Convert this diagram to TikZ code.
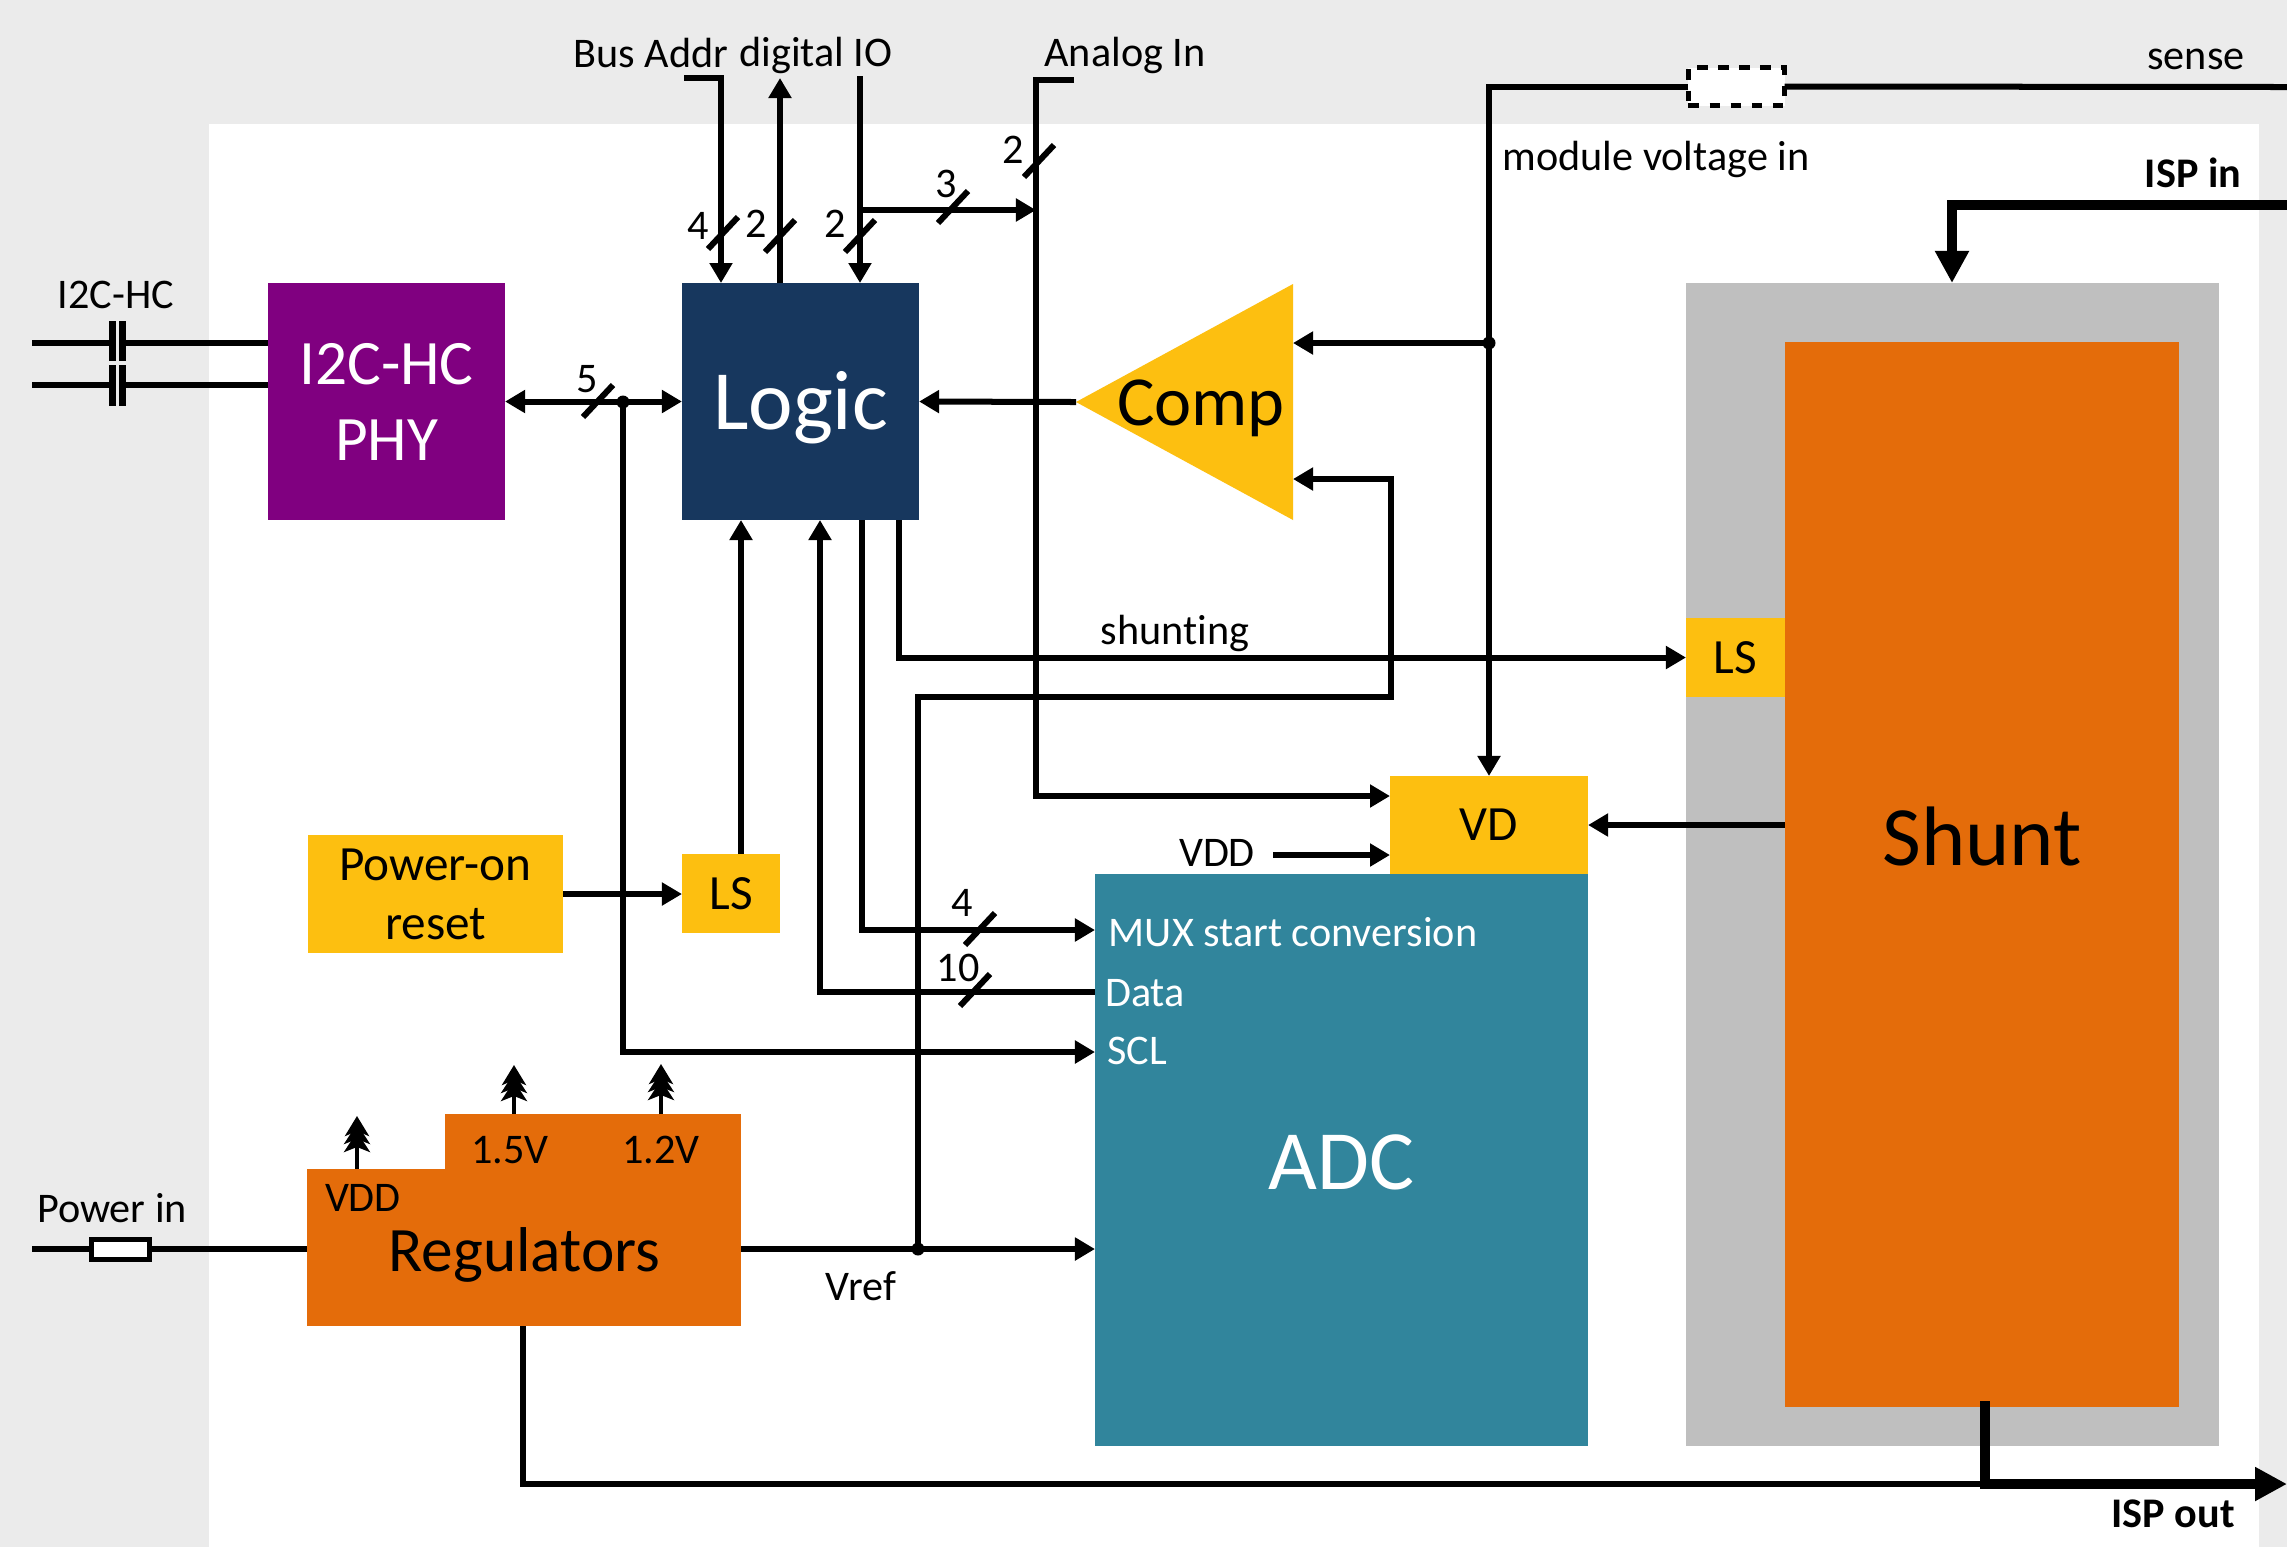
\documentclass[tikz,border=0pt]{standalone}
\usepackage{fontspec}
\setmainfont{Carlito}[Ligatures=NoCommon]
\usetikzlibrary{
    arrows.meta,
    shapes.geometric
}
\definecolor{pagegrey}{HTML}{EBEBEB}
\definecolor{casegrey}{HTML}{BFBFBF}
\definecolor{phypurple}{HTML}{800080}
\definecolor{logicblue}{HTML}{17375E}
\definecolor{blockyellow}{HTML}{FDBF10}
\definecolor{blockorange}{HTML}{E46C0A}
\definecolor{adcteal}{HTML}{31859C}
\tikzset{
  every node/.style={
    inner sep=0pt,
    outer sep=0pt
  },
  block/.style={
    font=\fontsize{14}{16.8}\selectfont,
    align=center
  },
  bigtxt/.style={
    font=\fontsize{24}{28.8}\selectfont
  },
  txt/.style={
    font=\fontsize{12}{14.4}\selectfont
  },
  boldtxt/.style={
    font=\fontsize{12}{14.4}\selectfont\bfseries
  },
  wire/.style={
    black,
    line width=0.06cm,
    -{Triangle[length=0.2cm,width=0.22cm]}
  },
  plain/.style={
    black,
    line width=0.06cm
  },
  fatwire/.style={
    black,
    line width=0.105cm,
    -{Triangle[length=0.32cm,width=0.32cm]}
  },
  treewire/.style={
    black,
    line width=0.04cm,
    -{Stealth[length=0.2cm,width=0.26cm,inset=0.05cm,sep=-0.12cm]
      Stealth[length=0.2cm,width=0.26cm,inset=0.05cm,sep=-0.12cm]
      Stealth[length=0.2cm,width=0.24cm,inset=0.05cm]}
  },
  junction/.style={
    fill=black,
    circle,
    minimum size=0.13cm
  }
}
\begin{document}
\begin{tikzpicture}[x=0.01cm,y=-0.01cm]
    \useasboundingbox (0,0) rectangle (2287,1547);
    \fill[pagegrey] (0,0) rectangle (2287,1547);
    \fill[white] (209,124) rectangle (2259,1547);

    \begin{scope}[yshift=-0.01cm]
    % blocks
    \node[block,fill=phypurple,text=white,minimum width=2.37cm,minimum height=2.37cm,font=\fontsize{18}{21.6}\selectfont] (phy) at (386.5,400.5) {I2C-HC\\PHY};
    \node[fill=logicblue,minimum width=2.37cm,minimum height=2.37cm] (logic) at (800.5,400.5) {};
    \node[bigtxt,text=white] (logicname) at (800.5,406.5) {Logic};
    \node[fill=casegrey,minimum width=5.33cm,minimum height=11.63cm] (shuntcase) at (1952.5,863.5) {};
    \node[fill=blockorange,minimum width=3.94cm,minimum height=10.65cm] (shunt) at (1982,873.5) {};
    \node[bigtxt] (shuntname) at (1982,835) {Shunt};
    \node[block,fill=blockyellow,minimum width=0.99cm,minimum height=0.79cm] (lsshunt) at (1735.5,656.5) {LS};
    \node[block,fill=blockyellow,minimum width=1.98cm,minimum height=0.98cm] (vd) at (1489,824) {VD};
    \node[fill=adcteal,minimum width=4.93cm,minimum height=5.72cm] (adc) at (1341.5,1159) {};
    \node[bigtxt,text=white] (adcname) at (1341.5,1161) {ADC};
    \node[block,fill=blockyellow,minimum width=2.55cm,minimum height=1.18cm] (por) at (435.5,893) {Power-on\\reset};
    \node[block,fill=blockyellow,minimum width=0.98cm,minimum height=0.79cm] (lspor) at (731,892.5) {LS};
    \fill[blockyellow] (1076,401) -- (1293,283) -- (1293,519) -- cycle;
    \node[font=\fontsize{20}{24}\selectfont] (comp) at (1201,407) {Comp};
    \coordinate (comptip) at (1076,401);

    % regulators
    \node[fill=blockorange,minimum width=4.34cm,minimum height=1.57cm] (regs) at (524,1246.5) {};
    \node[fill=blockorange,minimum width=2.96cm,minimum height=0.56cm] (regstop) at (593,1141) {};
    \node[font=\fontsize{18}{21.6}\selectfont] (regsname) at (524.5,1253.5) {Regulators};
    \node[txt] (regvdd) at (363,1197) {VDD};
    \node[txt] (regmid) at (510,1149) {1.5V};
    \node[txt] (reglow) at (661,1149) {1.2V};

    % labels
    \node[txt] (lbladdr) at (651,52) {Bus Addr};
    \node[txt] (lblio) at (816,54) {digital IO};
    \node[txt] (lblanalog) at (1125,54) {Analog In};
    \node[txt] (lblsense) at (2196,58) {sense};
    \node[txt] (lblmodule) at (1656,158) {module voltage in};
    \node[boldtxt] (lblispin) at (2193,172) {ISP in};
    \node[boldtxt] (lblispout) at (2173,1513) {ISP out};
    \node[txt] (lblbus) at (116,294) {I2C-HC};
    \node[txt] (lblpower) at (112,1207) {Power in};
    \node[txt] (lblshunting) at (1175,632) {shunting};
    \node[txt] (lblvdd) at (1217,852) {VDD};
    \node[txt] (lblvref) at (861,1285) {Vref};
    \node[txt,text=white] (lblmux) at (1293,931) {MUX start conversion};
    \node[txt,text=white] (lbldata) at (1145,992) {Data};
    \node[txt,text=white] (lblscl) at (1137,1050) {SCL};

    % free ends and pins
    \coordinate (addrin) at (684,77);
    \coordinate (ioout) at (780,77);
    \coordinate (ioin) at (860,75);
    \coordinate (iotap) at (860,209);
    \coordinate (analogin) at (1074,79);
    \coordinate (analogpin) at (1036,209);
    \coordinate (sensein) at (2287,86);
    \coordinate (ispin) at (2287,204);
    \coordinate (ispout) at (2287,1483);
    \coordinate (logicaddr) at (721,282);
    \coordinate (logicio) at (780,282);
    \coordinate (logicin) at (860,282);
    \coordinate (logicls) at (741,519);
    \coordinate (logicdata) at (820,519);
    \coordinate (logicmux) at (862,519);
    \coordinate (logicshunt) at (899,519);
    \coordinate (pinmux) at (1095,929);
    \coordinate (pindata) at (1095,991);
    \coordinate (pinscl) at (1095,1051);
    \coordinate (pinvref) at (1095,1248);
    \coordinate (vdanalog) at (1390,795);
    \coordinate (vddin) at (1273,854);
    \coordinate (vdvdd) at (1390,854);
    \coordinate (compup) at (1293,342);
    \coordinate (compdown) at (1293,478);
    \coordinate (lspin) at (741,853);
    \coordinate (shuntin) at (1952,282);
    \coordinate (shuntout) at (1985,1400);
    \coordinate (regsout) at (523,1325);
    \coordinate (vddvd) at (357,1168);
    \coordinate (midout) at (514,1113);
    \coordinate (lowout) at (661,1113);

    % junctions and input resistors
    \node[junction] (jscl) at (623,401) {};
    \node[junction] (jcomp) at (1489,342) {};
    \node[junction] (jvref) at (918,1248) {};
    \node[draw=black,fill=white,line width=0.05cm,minimum width=0.58cm,minimum height=0.2cm] (respower) at (120.5,1248) {};
    \node[draw=black,dashed,fill=white,line width=0.05cm,minimum width=0.96cm,minimum height=0.38cm] (ressense) at (1736.5,85.5) {};

    % bus capacitors
    \foreach \i/\ly/\ya/\yb in {1/342/320/360,2/384/364/405} {
        \coordinate (bussrc\i) at (32,\ly);
        \draw[plain] (bussrc\i) -- (112,\ly);
        \draw[plain] (123,\ly) -- (268,\ly);
        \draw[line width=0.07cm] (112.5,\ya) -- (112.5,\yb);
        \draw[line width=0.07cm] (122.5,\ya) -- (122.5,\yb);
    }

    % wires
    \draw[wire,{Triangle[length=0.2cm,width=0.22cm]}-{Triangle[length=0.2cm,width=0.22cm]}] (phy.east) -- (logic.west);
    \draw[wire] (jscl.center) |- (pinscl);
    \draw[wire] (addrin) -| (logicaddr);
    \draw[wire] (logicio) -- (ioout);
    \draw[wire] (ioin) -- (logicin);
    \draw[wire] (iotap) -- (analogpin);
    \draw[wire] (analogin) -- (1036,79) |- (vdanalog);
    \draw[wire] (comptip) -- (logic.east);
    \draw[wire] (lspin) -- (logicls);
    \draw[wire] (pindata) -| (logicdata);
    \draw[wire] (logicmux) |- (pinmux);
    \draw[wire] (logicshunt) |- (lsshunt.west);
    \draw[wire] (por.east) -- (lspor.west |- por.east);
    \draw[wire] (regs.east |- pinvref) -- (pinvref);
    \draw[wire] (jvref.center) -- (918,696) -- (1391,696) |- (compdown);
    \draw[wire] (shunt.west |- vd.east) -- (vd.east);
    \draw[wire] (vddin) -- (vdvdd);
    \draw[wire] (ressense.west) -| (vd.north);
    \draw[wire] (jcomp.center) -- (compup);
    \draw[plain] (sensein) -- (ressense.east);
    \draw[plain] (bussrc1 |- respower) -- (respower.west);
    \draw[plain] (respower.east) -- (regs.west |- respower);
    \draw[plain] (regsout) |- (shuntout |- ispout);

    % high current path
    \draw[fatwire] (ispin) -| (shuntin);
    \draw[fatwire] (shuntout) |- (ispout);

    % rail outputs
    \draw[treewire] (vddvd) -- (357,1115);
    \draw[treewire] (midout) -- (514,1064);
    \draw[treewire] (lowout) -- (661,1063);

    % bus widths
    \foreach \n/\cx/\cy/\lx/\ly in {5/598/400/587/378,4/723/232/698/225,2/780/235/756/223,2/860/235/835/223,3/953/206/946/183,2/1039/160/1013/149,4/980/928/962/902,10/975/989/958/967} {
        \draw[plain] ({\cx-15},{\cy+16}) -- ({\cx+15},{\cy-16});
        \node[txt] (bus\n-\cx) at (\lx,\ly) {\n};
    }
    \end{scope}
\end{tikzpicture}
\end{document}
